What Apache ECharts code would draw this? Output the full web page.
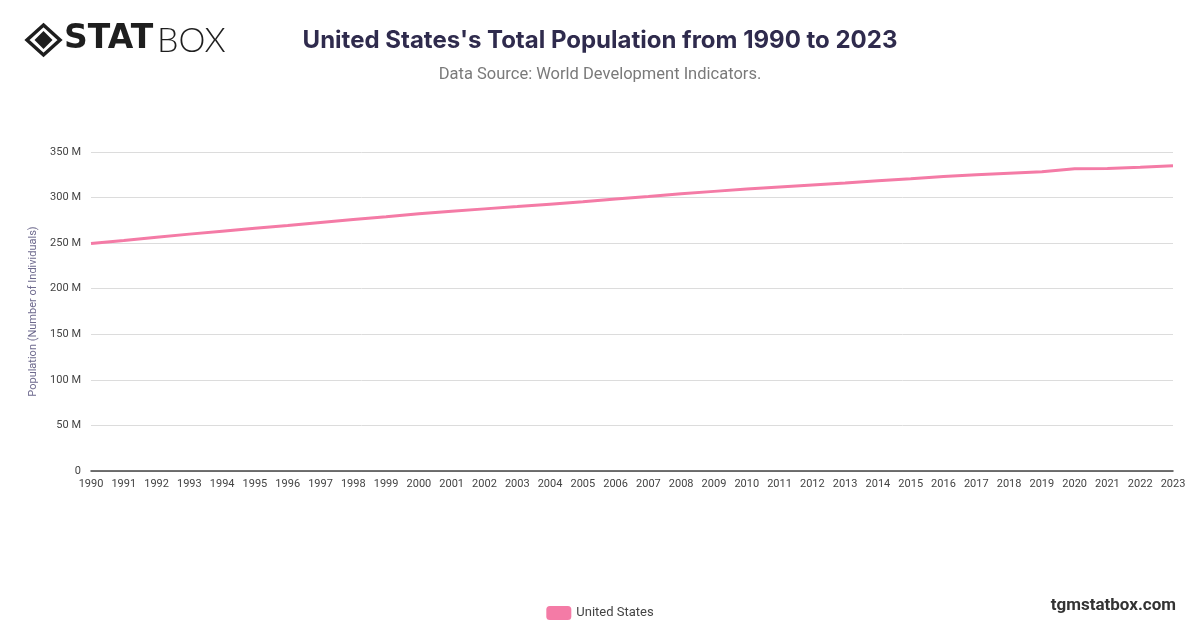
<!DOCTYPE html>
<html><head><meta charset="utf-8">
<script src="https://cdn.jsdelivr.net/npm/echarts@6/dist/echarts.min.js"></script>
<style>html,body{margin:0;padding:0;background:#fff}#c{width:1200px;height:628px}</style>
</head><body><div id="c"></div>
<script>
const years = ['1990','1991','1992','1993','1994','1995','1996','1997','1998','1999','2000','2001','2002','2003','2004','2005','2006','2007','2008','2009','2010','2011','2012','2013','2014','2015','2016','2017','2018','2019','2020','2021','2022','2023'];
const populationMillions = [249.6,253.0,256.5,259.9,263.1,266.3,269.4,272.7,275.9,279.0,282.2,285.0,287.6,290.1,292.8,295.5,298.4,301.2,304.1,306.8,309.3,311.6,313.9,316.1,318.4,320.7,323.1,325.1,326.8,328.3,331.5,332.0,333.3,334.9];
const seriesName = 'United States';

const chart = echarts.init(document.getElementById('c'), null, {renderer:'canvas'});
chart.setOption({
  animation:false,
  backgroundColor:'#fff',
  title:[
    {text:"United States's Total Population from 1990 to 2023", left:595, top:24, textAlign:'center',
     textStyle:{fontFamily:'Inter, Roboto, sans-serif', fontSize:24, fontWeight:'bold', color:'#2f2b4d'}},
    {text:'Data Source: World Development Indicators.', left:595, top:61, textAlign:'center',
     textStyle:{fontFamily:'Roboto, sans-serif', fontSize:16.5, fontWeight:'normal', color:'#7a7a7a'}}
  ],
  grid:{left:91, right:27, top:152, bottom:157, containLabel:false},
  legend:{bottom:3, left:'center', data:[seriesName], icon:'roundRect', itemWidth:25, itemHeight:14,
    textStyle:{fontFamily:'Roboto, sans-serif', fontSize:13, color:'#444'}},
  xAxis:{type:'category', data:years, boundaryGap:false,
    axisLine:{lineStyle:{color:'#444', width:1.5}}, axisTick:{show:false},
    axisLabel:{interval:0, color:'#444', fontSize:11, fontFamily:'Roboto, sans-serif', margin:8}},
  yAxis:{type:'value', min:0, max:350, interval:50,
    name:'Population (Number of Individuals)', nameLocation:'middle', nameGap:43,
    nameTextStyle:{color:'#6e6a8e', fontSize:11, fontFamily:'Roboto, sans-serif'},
    axisLine:{show:false}, axisTick:{show:false},
    splitLine:{lineStyle:{color:'#dcdcdc', width:1}},
    axisLabel:{color:'#444', fontSize:11, fontFamily:'Roboto, sans-serif', margin:10,
      formatter:v=> v===0 ? '0' : v+' M'}},
  series:[{name:seriesName, type:'line', data:populationMillions, showSymbol:false, symbol:'none',
    lineStyle:{color:'#f47ba6', width:3}, itemStyle:{color:'#f47ba6'}}],
  graphic:[
    {type:'polygon', shape:{points:[[43.5,25],[60,40],[43.5,55],[27,40]]}, style:{fill:'none', stroke:'#1e1e1e', lineWidth:3.5}},
    {type:'polygon', shape:{points:[[43.5,31],[52.5,40],[43.5,49],[34.5,40]]}, style:{fill:'#1e1e1e'}},
    {type:'text', left:64, top:23, style:{text:'STAT', font:'bold 33px "DejaVu Sans", sans-serif', fill:'#1e1e1e'}},
    {type:'text', left:157, top:24, style:{text:'BOX', font:'300 34px Lato, sans-serif', fill:'#1e1e1e'}},
    {type:'text', right:24, top:597, style:{text:'tgmstatbox.com', font:'bold 17px Roboto, sans-serif', fill:'#333'}}
  ]
});
</script></body></html>
